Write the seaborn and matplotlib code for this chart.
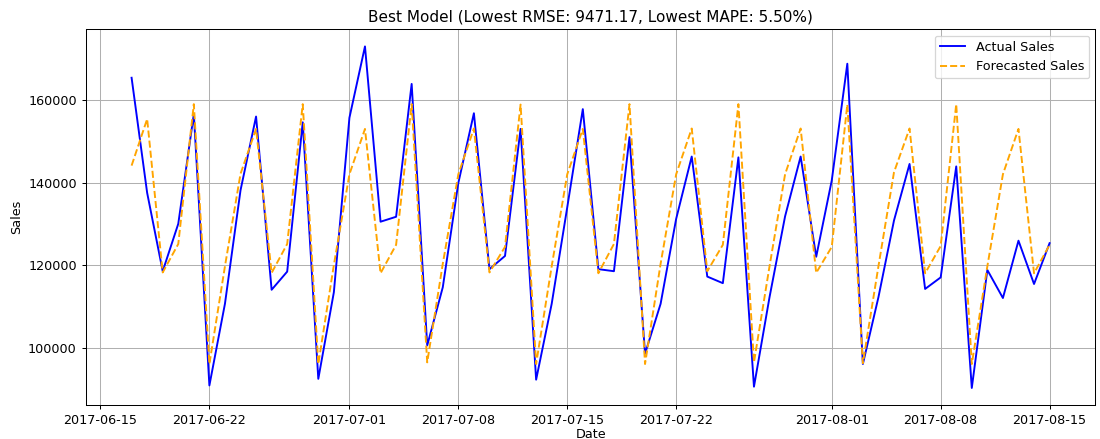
import pandas as pd
import matplotlib
matplotlib.use("Agg")
import matplotlib.pyplot as plt
import seaborn as sns

# Daily dates shown on the chart
dates = pd.date_range("2017-06-17", "2017-08-15", freq="D")

# Values
actual_sales = [
    165400, 137500, 118500, 130000, 156600, 90800, 110600, 138100, 156000, 114000,
    118400, 154600, 92400, 113400, 155700, 173000, 130500, 131700, 163900, 100500,
    114600, 139900, 156800, 119000, 122200, 153000, 92200, 110600, 134000, 157800,
    119000, 118500, 151000, 98500, 110600, 131200, 146300, 117200, 115600, 146100,
    90500, 112200, 131800, 146300, 122000, 140500, 168800, 96000, 112200, 130800,
    144500, 114200, 117000, 143900, 90200, 118800, 112000, 125900, 115400, 125300,
]
forecast_sales = [
    144100, 155400, 118200, 125100, 159000, 96000, 119700, 142100, 153000, 118100,
    125100, 159000, 96000, 120000, 142000, 153000, 118000, 124900, 159000, 96400,
    120300, 142000, 153100, 118200, 124400, 158900, 96000, 119700, 142000, 153000,
    118000, 125100, 159000, 96000, 120300, 142000, 153100, 118500, 124900, 159000,
    96400, 119700, 142000, 153100, 118100, 124400, 158900, 96200, 119700, 142500,
    153100, 118000, 124600, 159000, 96000, 119700, 142000, 153000, 118000, 124900,
]

title = "Best Model (Lowest RMSE: 9471.17, Lowest MAPE: 5.50%)"

df = pd.DataFrame({"Date": dates, "Actual": actual_sales, "Forecast": forecast_sales})

# reference looks like a 12in wide figure scaled down to 1100 px
dpi = 1100 / 12
fig = plt.figure(figsize=(12, 439 / dpi), dpi=dpi)
ax = fig.add_axes([0.0779, 0.0774, 0.918, 0.8558])

sns.lineplot(data=df, x="Date", y="Actual", color="blue", label="Actual Sales", ax=ax)
sns.lineplot(data=df, x="Date", y="Forecast", color="orange", linestyle="--",
             label="Forecasted Sales", ax=ax)

ax.set_title(title)
ax.set_xlabel("Date", labelpad=1)
ax.set_ylabel("Sales")
ax.grid(True)
ax.legend(loc="upper right")

fig.savefig("out.png", dpi=dpi)
